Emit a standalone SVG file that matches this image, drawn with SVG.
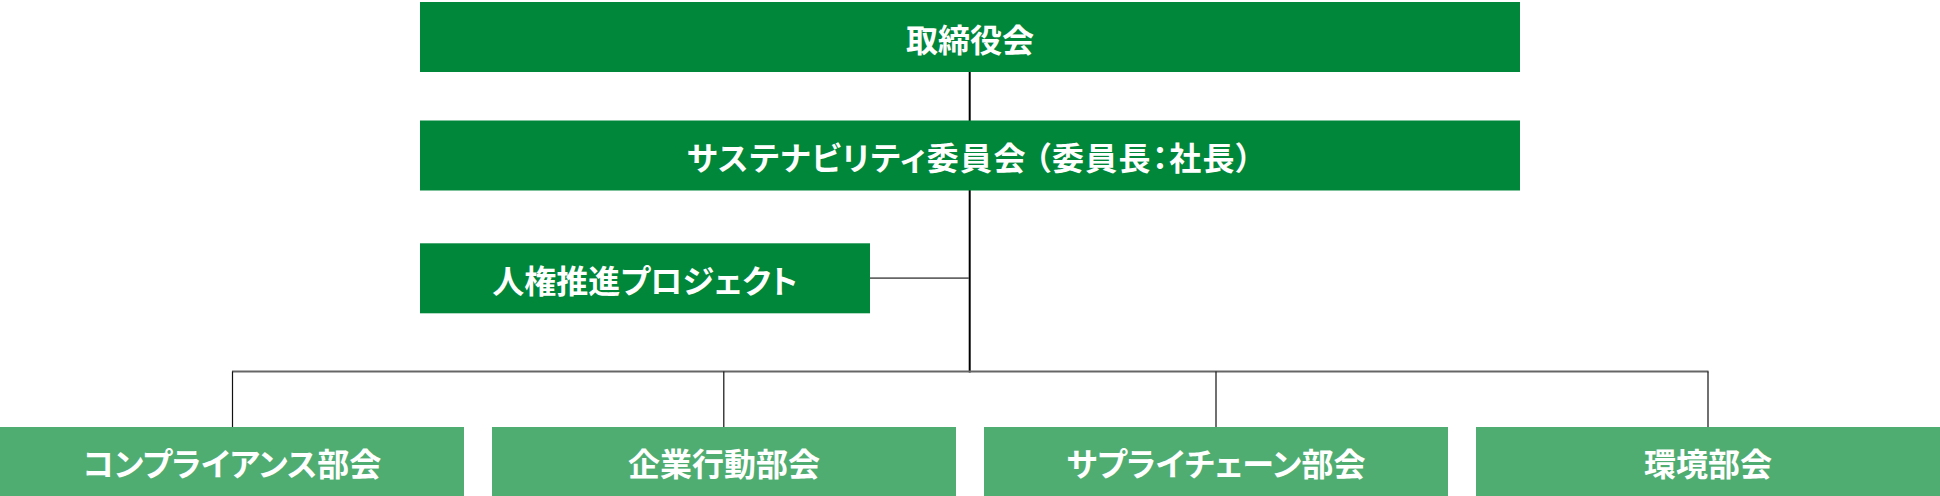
<svg xmlns="http://www.w3.org/2000/svg" width="1940" height="496" viewBox="0 0 1940 496">
<style>
.dark{fill:#00873A}
.light{fill:#4FAD72}
.t{font-family:"Noto Sans CJK JP","Noto Sans",sans-serif;font-weight:bold;font-size:32px;fill:#FFFFFF;text-anchor:middle;dominant-baseline:central;font-feature-settings:"palt" 1}
.w{letter-spacing:1.3px}
.v{stroke:#000;stroke-width:2;fill:none}
.h{stroke:#666;stroke-width:1.8;fill:none}
.d{stroke:#111;stroke-width:1.2;fill:none}
</style>
<rect width="1940" height="496" fill="#FFFFFF"/>
<g id="connectors">
<line class="v" x1="969.7" y1="72" x2="969.7" y2="121"/>
<line class="v" x1="969.7" y1="190" x2="969.7" y2="372.5"/>
<line class="h" x1="870" y1="278.2" x2="969" y2="278.2"/>
<line class="h" x1="232" y1="371.5" x2="1708.5" y2="371.5"/>
<line class="d" x1="232.5" y1="371.5" x2="232.5" y2="427"/>
<line class="d" x1="723.8" y1="371.5" x2="723.8" y2="427"/>
<line class="d" x1="1216" y1="371.5" x2="1216" y2="427"/>
<line class="d" x1="1708" y1="371.5" x2="1708" y2="427"/>
</g>
<g id="board">
<rect class="dark" x="420" y="2" width="1100" height="70"/>
<text class="t" x="970" y="38">取締役会</text>
</g>
<g id="sustainability">
<rect class="dark" x="420" y="120.5" width="1100" height="70"/>
<text class="t w" x="970" y="156">サステナビリティ委員会<tspan dx="8">（</tspan>委員長：社長）</text>
</g>
<g id="human-rights">
<rect class="dark" x="420" y="243.3" width="450" height="70"/>
<text class="t" x="645" y="279">人権推進プロジェクト</text>
</g>
<g id="compliance">
<rect class="light" x="0" y="427" width="464" height="70"/>
<text class="t" x="232" y="462">コンプライアンス部会</text>
</g>
<g id="conduct">
<rect class="light" x="492" y="427" width="464" height="70"/>
<text class="t" x="724" y="462">企業行動部会</text>
</g>
<g id="supplychain">
<rect class="light" x="984" y="427" width="464" height="70"/>
<text class="t" x="1216" y="462">サプライチェーン部会</text>
</g>
<g id="environment">
<rect class="light" x="1476" y="427" width="464" height="70"/>
<text class="t" x="1708" y="462">環境部会</text>
</g>
</svg>
